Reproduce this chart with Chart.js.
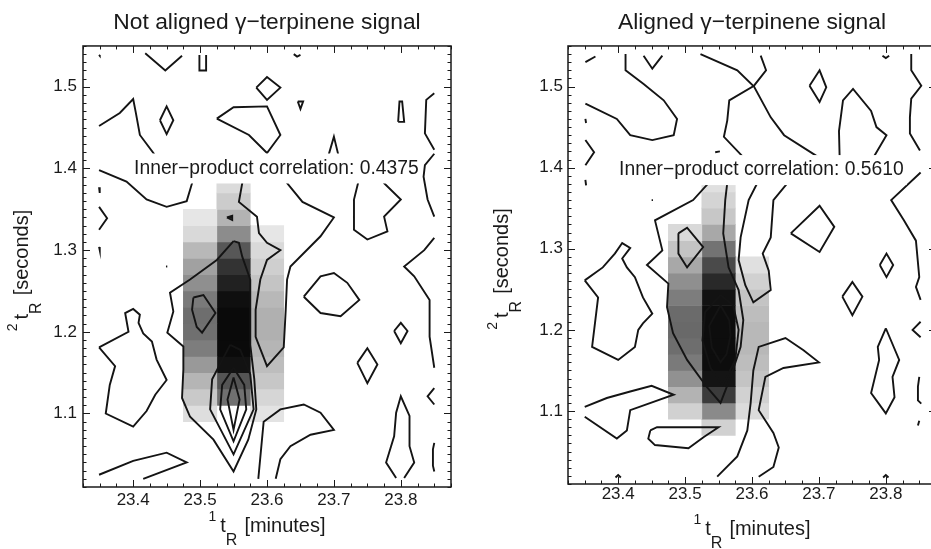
<!DOCTYPE html>
<html>
<head>
<meta charset="utf-8">
<script src="https://cdn.jsdelivr.net/npm/chart.js@4.4.1/dist/chart.umd.min.js"></script>
<style>
    html, body { margin: 0; padding: 0; background: #fff; overflow: hidden; }
    #left_panel { position: absolute; left: 0; top: 0; }
    #right_panel { position: absolute; left: 470px; top: 0; }
</style>
</head>
<body>
<canvas id="left_panel" width="470" height="549"></canvas>
<canvas id="right_panel" width="480" height="549"></canvas>
<script>
// axis ticks (minutes / seconds)
const xTickValues = [23.4, 23.5, 23.6, 23.7, 23.8];
const yTickValues = [1.1, 1.2, 1.3, 1.4, 1.5];

// gamma-terpinene signal cells: column centers, lowest row of each column, row step
const cellColumns = [23.50, 23.55, 23.60];
const rowStep = 0.02;
const leftCellBottoms = [1.09, 1.11, 1.09];
const rightCellBottoms = [1.09, 1.07, 1.09];

// relative intensities, bottom row first
const leftCellValues = [
    [0.13, 0.21, 0.29, 0.40, 0.51, 0.56, 0.57, 0.52, 0.44, 0.37, 0.28, 0.15, 0.10],
    [0.56, 0.67, 0.93, 0.96, 0.96, 0.96, 0.94, 0.87, 0.80, 0.66, 0.45, 0.30, 0.20, 0.14],
    [0.11, 0.16, 0.22, 0.26, 0.29, 0.31, 0.31, 0.28, 0.23, 0.19, 0.15, 0.10]
];
const rightCellValues = [
    [0.18, 0.30, 0.43, 0.52, 0.57, 0.59, 0.58, 0.51, 0.44, 0.34, 0.23, 0.15],
    [0.18, 0.46, 0.77, 0.92, 0.95, 0.95, 0.95, 0.95, 0.93, 0.84, 0.71, 0.55, 0.34, 0.22, 0.17, 0.12],
    [0.14, 0.18, 0.23, 0.26, 0.28, 0.28, 0.26, 0.23, 0.18, 0.12]
];

const leftCorrelation = 0.4375;
const rightCorrelation = 0.5610;

// contour polylines [minutes, seconds]
const leftContours = [
    [[23.349, 1.539], [23.350, 1.538]],
    [[23.418, 1.541], [23.448, 1.520], [23.473, 1.538]],
    [[23.499, 1.539], [23.499, 1.520], [23.509, 1.520], [23.509, 1.539]],
    [[23.640, 1.540], [23.645, 1.537], [23.650, 1.539]],
    [[23.584, 1.499], [23.600, 1.512], [23.620, 1.499], [23.600, 1.484], [23.584, 1.499]],
    [[23.646, 1.482], [23.654, 1.482], [23.650, 1.473], [23.646, 1.482]],
    [[23.349, 1.452], [23.380, 1.468], [23.400, 1.485], [23.404, 1.468], [23.410, 1.441], [23.431, 1.418], [23.438, 1.405]],
    [[23.440, 1.459], [23.450, 1.476], [23.460, 1.459], [23.450, 1.442], [23.440, 1.459]],
    [[23.525, 1.461], [23.550, 1.475], [23.600, 1.476], [23.620, 1.441], [23.600, 1.419], [23.573, 1.441], [23.525, 1.461]],
    [[23.688, 1.405], [23.700, 1.439], [23.710, 1.405]],
    [[23.796, 1.457], [23.798, 1.482], [23.802, 1.482], [23.805, 1.457], [23.796, 1.457]],
    [[23.850, 1.492], [23.838, 1.484], [23.836, 1.443], [23.850, 1.423]],
    [[23.850, 1.418], [23.836, 1.404], [23.834, 1.390], [23.840, 1.362], [23.850, 1.341]],
    [[23.349, 1.398], [23.390, 1.384], [23.420, 1.362], [23.450, 1.353], [23.480, 1.360], [23.488, 1.382], [23.490, 1.395]],
    [[23.349, 1.377], [23.350, 1.370]],
    [[23.349, 1.353], [23.361, 1.339], [23.349, 1.325]],
    [[23.349, 1.304], [23.350, 1.300]],
    [[23.540, 1.340], [23.548, 1.342], [23.548, 1.337], [23.540, 1.340]],
    [[23.449, 1.280], [23.451, 1.280]],
    [[23.563, 1.395], [23.563, 1.382], [23.558, 1.359], [23.585, 1.341], [23.588, 1.321], [23.600, 1.309], [23.620, 1.300],
        [23.600, 1.288], [23.590, 1.264], [23.583, 1.227], [23.583, 1.194], [23.600, 1.158], [23.625, 1.181], [23.628, 1.227],
        [23.630, 1.264], [23.635, 1.280], [23.680, 1.317], [23.700, 1.340], [23.653, 1.359], [23.630, 1.382], [23.628, 1.395]],
    [[23.550, 1.311], [23.525, 1.288], [23.485, 1.264], [23.455, 1.248], [23.460, 1.225], [23.451, 1.199], [23.475, 1.182],
        [23.475, 1.154], [23.473, 1.119], [23.485, 1.096], [23.520, 1.068], [23.550, 1.029], [23.572, 1.068], [23.584, 1.105],
        [23.581, 1.142], [23.575, 1.184], [23.575, 1.227], [23.575, 1.264], [23.563, 1.292], [23.558, 1.309], [23.550, 1.311]],
    [[23.490, 1.242], [23.505, 1.245], [23.523, 1.223], [23.503, 1.199], [23.495, 1.206], [23.488, 1.227], [23.490, 1.242]],
    [[23.550, 1.144], [23.541, 1.117], [23.550, 1.080], [23.559, 1.117], [23.550, 1.144]],
    [[23.550, 1.156], [23.533, 1.135], [23.530, 1.105], [23.550, 1.066], [23.569, 1.105], [23.566, 1.135], [23.550, 1.156]],
    [[23.545, 1.184], [23.518, 1.142], [23.515, 1.105], [23.550, 1.050], [23.580, 1.105], [23.575, 1.148], [23.560, 1.178], [23.545, 1.184]],
    [[23.587, 1.020], [23.595, 1.090], [23.620, 1.105], [23.655, 1.111], [23.680, 1.101], [23.700, 1.080], [23.665, 1.074],
        [23.635, 1.060], [23.620, 1.044], [23.613, 1.020]],
    [[23.349, 1.181], [23.373, 1.158], [23.365, 1.135], [23.359, 1.100], [23.400, 1.084], [23.420, 1.103], [23.433, 1.123],
        [23.450, 1.141], [23.435, 1.166], [23.428, 1.188], [23.415, 1.198], [23.408, 1.211], [23.410, 1.221], [23.400, 1.228],
        [23.388, 1.223], [23.393, 1.200], [23.349, 1.181]],
    [[23.349, 1.025], [23.400, 1.042], [23.450, 1.052], [23.480, 1.040], [23.415, 1.020]],
    [[23.740, 1.395], [23.730, 1.362], [23.730, 1.325], [23.750, 1.313], [23.780, 1.323], [23.775, 1.341], [23.800, 1.362],
        [23.775, 1.382], [23.770, 1.395]],
    [[23.850, 1.315], [23.835, 1.300], [23.805, 1.280], [23.820, 1.268], [23.843, 1.239], [23.843, 1.194], [23.850, 1.156]],
    [[23.790, 1.201], [23.800, 1.211], [23.810, 1.201], [23.800, 1.186], [23.790, 1.201]],
    [[23.735, 1.162], [23.750, 1.180], [23.765, 1.160], [23.750, 1.137], [23.735, 1.162]],
    [[23.850, 1.131], [23.840, 1.121], [23.850, 1.111]],
    [[23.793, 1.021], [23.778, 1.040], [23.790, 1.072], [23.793, 1.101], [23.800, 1.121], [23.813, 1.097], [23.813, 1.060],
        [23.820, 1.040], [23.805, 1.021]],
    [[23.850, 1.064], [23.848, 1.056], [23.848, 1.036], [23.850, 1.029]],
    [[23.655, 1.243], [23.680, 1.268], [23.700, 1.272], [23.720, 1.260], [23.738, 1.239], [23.710, 1.219], [23.680, 1.223], [23.655, 1.243]]
];

const rightContours = [
    [[23.351, 1.530], [23.366, 1.537]],
    [[23.438, 1.538], [23.451, 1.522], [23.466, 1.538]],
    [[23.411, 1.540], [23.411, 1.520], [23.438, 1.503], [23.468, 1.483], [23.488, 1.460], [23.483, 1.440], [23.451, 1.434],
        [23.418, 1.440], [23.398, 1.460], [23.351, 1.479]],
    [[23.523, 1.540], [23.578, 1.520], [23.603, 1.500], [23.628, 1.462], [23.648, 1.440], [23.701, 1.412]],
    [[23.613, 1.538], [23.621, 1.520], [23.603, 1.501], [23.566, 1.483], [23.563, 1.458], [23.558, 1.438], [23.588, 1.412]],
    [[23.686, 1.501], [23.701, 1.520], [23.711, 1.499], [23.701, 1.481], [23.686, 1.501]],
    [[23.731, 1.412], [23.730, 1.445], [23.736, 1.483], [23.751, 1.497], [23.778, 1.470], [23.786, 1.450], [23.801, 1.440], [23.781, 1.412]],
    [[23.795, 1.538], [23.800, 1.535], [23.805, 1.538]],
    [[23.838, 1.540], [23.838, 1.520], [23.853, 1.501], [23.838, 1.485], [23.836, 1.462], [23.836, 1.442], [23.851, 1.421]],
    [[23.351, 1.460], [23.352, 1.455]],
    [[23.351, 1.434], [23.364, 1.419], [23.351, 1.403]],
    [[23.351, 1.385], [23.352, 1.378]],
    [[23.545, 1.419], [23.552, 1.420]],
    [[23.852, 1.394], [23.808, 1.360], [23.827, 1.335], [23.845, 1.310], [23.850, 1.265], [23.845, 1.253], [23.852, 1.237]],
    [[23.791, 1.280], [23.801, 1.294], [23.811, 1.280], [23.801, 1.265], [23.791, 1.280]],
    [[23.658, 1.319], [23.701, 1.353], [23.723, 1.327], [23.701, 1.296], [23.658, 1.319]],
    [[23.450, 1.360], [23.452, 1.360]],
    [[23.490, 1.319], [23.503, 1.326], [23.527, 1.302], [23.503, 1.277], [23.490, 1.294], [23.490, 1.319]],
    [[23.537, 1.392], [23.535, 1.381], [23.512, 1.360], [23.455, 1.335], [23.466, 1.298], [23.443, 1.280], [23.475, 1.257],
        [23.473, 1.228], [23.482, 1.196], [23.503, 1.163], [23.533, 1.129], [23.553, 1.110], [23.568, 1.142], [23.583, 1.179],
        [23.587, 1.212], [23.580, 1.249], [23.565, 1.277], [23.557, 1.319], [23.560, 1.360], [23.563, 1.381], [23.563, 1.392]],
    [[23.553, 1.243], [23.572, 1.230], [23.580, 1.200], [23.575, 1.163], [23.556, 1.132], [23.538, 1.153], [23.526, 1.187],
        [23.530, 1.222], [23.553, 1.243]],
    [[23.553, 1.230], [23.566, 1.212], [23.568, 1.193], [23.562, 1.170], [23.553, 1.160], [23.540, 1.178], [23.536, 1.205], [23.553, 1.230]],
    [[23.608, 1.392], [23.608, 1.381], [23.595, 1.360], [23.583, 1.314], [23.580, 1.286], [23.590, 1.255], [23.602, 1.234],
        [23.628, 1.249], [23.625, 1.273], [23.616, 1.294], [23.628, 1.314], [23.632, 1.360], [23.653, 1.381], [23.655, 1.392]],
    [[23.548, 1.019], [23.578, 1.044], [23.593, 1.076], [23.598, 1.110], [23.602, 1.150], [23.610, 1.179], [23.650, 1.190],
        [23.677, 1.175], [23.700, 1.160], [23.647, 1.153], [23.620, 1.142], [23.610, 1.101], [23.632, 1.073], [23.640, 1.055],
        [23.632, 1.031], [23.610, 1.019]],
    [[23.350, 1.261], [23.377, 1.277], [23.395, 1.294], [23.406, 1.307], [23.418, 1.301], [23.406, 1.288], [23.413, 1.277],
        [23.425, 1.265], [23.437, 1.240], [23.451, 1.220], [23.437, 1.208], [23.430, 1.200], [23.425, 1.179], [23.400, 1.163],
        [23.361, 1.179], [23.370, 1.240], [23.350, 1.261]],
    [[23.350, 1.105], [23.383, 1.116], [23.418, 1.124], [23.450, 1.131], [23.483, 1.120], [23.418, 1.101], [23.413, 1.076],
        [23.398, 1.066], [23.350, 1.093]],
    [[23.448, 1.076], [23.458, 1.080], [23.550, 1.080], [23.528, 1.068], [23.505, 1.054], [23.455, 1.058], [23.445, 1.066], [23.448, 1.076]],
    [[23.396, 1.018], [23.400, 1.021], [23.404, 1.018]],
    [[23.796, 1.018], [23.800, 1.021], [23.804, 1.018]],
    [[23.735, 1.241], [23.750, 1.259], [23.765, 1.241], [23.750, 1.218], [23.735, 1.241]],
    [[23.852, 1.210], [23.840, 1.200], [23.852, 1.191]],
    [[23.800, 1.202], [23.788, 1.179], [23.790, 1.163], [23.778, 1.122], [23.800, 1.097], [23.813, 1.117], [23.810, 1.142],
        [23.820, 1.163], [23.800, 1.202]],
    [[23.850, 1.142], [23.848, 1.130], [23.848, 1.113], [23.853, 1.109]],
    [[23.850, 1.088], [23.848, 1.082]]
];

const FONT = '"Liberation Sans", Arial, Helvetica, sans-serif';
const INK = '#1a1a1a';

function grayFor(v) {
    const g = Math.round(255 * (1 - v));
    return 'rgb(' + g + ',' + g + ',' + g + ')';
}

function cellDatasets(bottoms, values) {
    return cellColumns.map(function (x, c) {
        return {
            type: 'bar',
            data: values[c].map(function (v, r) {
                const lo = bottoms[c] + r * rowStep;
                return {x: x, y: [lo, lo + rowStep], v: v};
            }),
            backgroundColor: function (ctx) {
                return grayFor(ctx.raw ? ctx.raw.v : 0);
            },
            borderWidth: 0,
            grouped: false,
            categoryPercentage: 1,
            barPercentage: 1,
            order: 10
        };
    });
}

function contourDatasets(lines) {
    return lines.map(function (pts) {
        return {
            type: 'scatter',
            data: pts.map(function (p) {
                return {x: p[0], y: p[1]};
            }),
            showLine: true,
            pointRadius: 0,
            borderColor: '#141414',
            borderWidth: 1.9,
            tension: 0,
            order: 0
        };
    });
}

function drawRichText(ctx, parts, cx, baseY) {
    let total = 0;
    const widths = parts.map(function (p) {
        ctx.font = p.size + 'px ' + FONT;
        const w = ctx.measureText(p.text).width;
        total += w + (p.gap || 0);
        return w;
    });
    let x = cx - total / 2;
    parts.forEach(function (p, i) {
        x += p.gap || 0;
        ctx.font = p.size + 'px ' + FONT;
        ctx.fillText(p.text, x, baseY + (p.dy || 0));
        x += widths[i];
    });
}

const panelDecor = {
    id: 'panelDecor',
    afterDatasetsDraw(chart, args, opts) {
        const {ctx, chartArea: a, scales: {x, y}} = chart;
        ctx.save();

        // correlation note on a white box
        ctx.font = '19.3px ' + FONT;
        const w = ctx.measureText(opts.note).width;
        const nx = x.getPixelForValue(opts.noteX);
        const ny = y.getPixelForValue(opts.noteY);
        ctx.fillStyle = '#fff';
        ctx.fillRect(nx - w / 2 - 3, ny - 15, w + 6, 30);
        ctx.fillStyle = INK;
        ctx.textAlign = 'center';
        ctx.textBaseline = 'middle';
        ctx.fillText(opts.note, nx, ny);

        // frame with inward ticks
        ctx.strokeStyle = INK;
        ctx.lineWidth = 1.5;
        ctx.strokeRect(a.left, a.top, a.right - a.left, a.bottom - a.top);
        ctx.lineWidth = 1;
        ctx.beginPath();
        for (let k = Math.ceil(x.min / 0.025 - 1e-6); k * 0.025 <= x.max + 1e-6; k++) {
            const v = k * 0.025;
            const len = Math.abs(v * 10 - Math.round(v * 10)) < 1e-6 ? 7 : 3.5;
            const px = Math.round(x.getPixelForValue(v)) + 0.5;
            ctx.moveTo(px, a.bottom);
            ctx.lineTo(px, a.bottom - len);
            ctx.moveTo(px, a.top);
            ctx.lineTo(px, a.top + len);
        }
        for (let k = Math.ceil(y.min / 0.01 - 1e-6); k * 0.01 <= y.max + 1e-6; k++) {
            const v = k * 0.01;
            const len = k % 10 === 0 ? 7 : 3.5;
            const py = Math.round(y.getPixelForValue(v)) + 0.5;
            ctx.moveTo(a.left, py);
            ctx.lineTo(a.left + len, py);
            ctx.moveTo(a.right, py);
            ctx.lineTo(a.right - len, py);
        }
        ctx.stroke();

        // axis titles with super/subscripts
        ctx.fillStyle = INK;
        ctx.textAlign = 'left';
        ctx.textBaseline = 'alphabetic';
        drawRichText(ctx, [
            {text: '1', size: 14, dy: -11},
            {text: 't', size: 20, gap: 4},
            {text: 'R', size: 16, dy: 13},
            {text: '[minutes]', size: 20, gap: 7}
        ], (a.left + a.right) / 2, a.bottom + opts.xTitleDrop);

        ctx.translate(a.left - opts.yTitleGap, (a.top + a.bottom) / 2 + 4);
        ctx.rotate(-Math.PI / 2);
        drawRichText(ctx, [
            {text: '2', size: 14, dy: -11},
            {text: 't', size: 20, gap: 4},
            {text: 'R', size: 16, dy: 13},
            {text: '[seconds]', size: 20, gap: 7}
        ], 0, 0);
        ctx.restore();
    }
};

function renderPanel(canvasId, setup) {
    const ctx = document.getElementById(canvasId).getContext('2d');
    return new Chart(ctx, {
        type: 'scatter',
        data: {
            datasets: cellDatasets(setup.bottoms, setup.values).concat(contourDatasets(setup.contours))
        },
        options: {
            responsive: false,
            animation: false,
            events: [],
            layout: {padding: {left: 0, right: setup.padRight, top: 0, bottom: 0}},
            plugins: {
                legend: {display: false},
                tooltip: {enabled: false},
                title: {
                    display: true,
                    text: setup.title,
                    fullSize: false,
                    color: INK,
                    font: {family: FONT, size: 22.8, weight: 'normal'},
                    padding: {top: 9, bottom: 9.6}
                },
                panelDecor: {
                    note: 'Inner\u2212product correlation: ' + setup.correlation.toFixed(4),
                    noteX: 23.614,
                    noteY: setup.noteY,
                    xTitleDrop: setup.xTitleDrop,
                    yTitleGap: setup.yTitleGap
                }
            },
            scales: {
                x: {
                    type: 'linear',
                    min: 23.325,
                    max: 23.875,
                    offset: false,
                    grid: {display: false, drawTicks: false, offset: false},
                    border: {display: false},
                    afterBuildTicks: function (scale) {
                        scale.ticks = xTickValues.map(function (v) { return {value: v}; });
                    },
                    afterFit: function (scale) {
                        scale.height = setup.xAxisHeight;
                    },
                    ticks: {
                        color: INK,
                        padding: setup.xTickPad,
                        maxRotation: 0,
                        autoSkip: false,
                        font: {family: FONT, size: 17},
                        callback: function (v) { return Number(v).toFixed(1); }
                    }
                },
                y: {
                    type: 'linear',
                    min: 1.01,
                    max: 1.55,
                    beginAtZero: false,
                    grid: {display: false, drawTicks: false},
                    border: {display: false},
                    afterBuildTicks: function (scale) {
                        scale.ticks = yTickValues.map(function (v) { return {value: v}; });
                    },
                    afterFit: function (scale) {
                        scale.width = setup.yAxisWidth;
                    },
                    ticks: {
                        color: INK,
                        padding: setup.yTickPad,
                        autoSkip: false,
                        font: {family: FONT, size: 17},
                        callback: function (v) { return Number(v).toFixed(1); }
                    }
                }
            }
        },
        plugins: [panelDecor]
    });
}

renderPanel('left_panel', {
    title: 'Not aligned \u03b3\u2212terpinene signal',
    bottoms: leftCellBottoms,
    values: leftCellValues,
    contours: leftContours,
    correlation: leftCorrelation,
    noteY: 1.40,
    padRight: 19,
    yAxisWidth: 83,
    xAxisHeight: 62,
    xTickPad: 3.5,
    yTickPad: 6,
    xTitleDrop: 45,
    yTitleGap: 55
});

renderPanel('right_panel', {
    title: 'Aligned \u03b3\u2212terpinene signal',
    bottoms: rightCellBottoms,
    values: rightCellValues,
    contours: rightContours,
    correlation: rightCorrelation,
    noteY: 1.397,
    padRight: 14,
    yAxisWidth: 98,
    xAxisHeight: 65,
    xTickPad: 0.5,
    yTickPad: 5,
    xTitleDrop: 51,
    yTitleGap: 60
});
</script>
</body>
</html>
